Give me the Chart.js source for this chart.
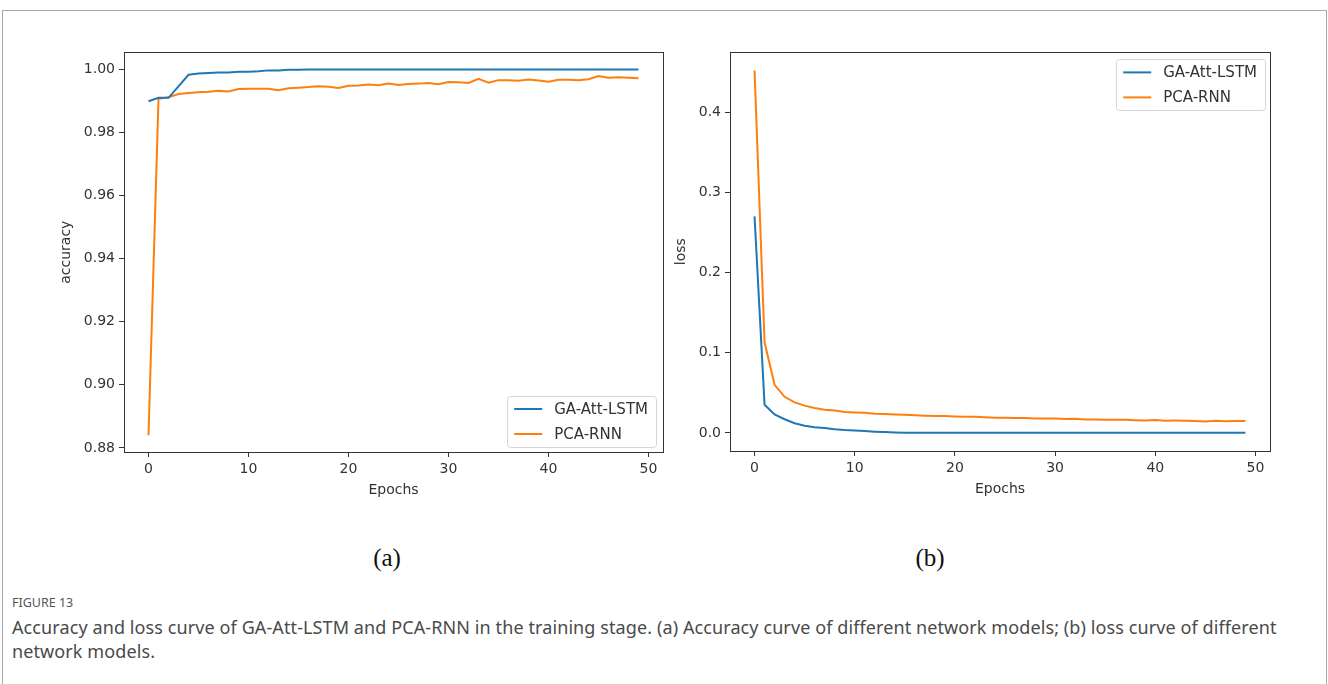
<!DOCTYPE html>
<html>
<head>
<meta charset="utf-8">
<script src="https://cdn.jsdelivr.net/npm/chart.js@4.4.1/dist/chart.umd.min.js"></script>
<style>
  body { margin: 0; background: #fff; width: 1328px; height: 684px; overflow: hidden; position: relative; }
  #frame { position: absolute; left: 2px; top: 10px; width: 1323px; height: 700px; border: 1px solid #a8a8a8; }
  #accWrap { position: absolute; left: 20px; top: 40px; width: 650px; height: 470px; }
  #lossWrap { position: absolute; left: 670px; top: 40px; width: 620px; height: 470px; }
  .sub { position: absolute; top: 545px; font-family: "Liberation Serif"; font-size: 25px; line-height: 25px; color: #111; transform: translateX(-50%); }
  #figno { position: absolute; left: 12px; top: 596px; font-family: "Noto Sans"; font-size: 12.5px; line-height: 14px; color: #555; }
  #cap { position: absolute; left: 12px; top: 615px; width: 1300px; font-family: "Noto Sans"; font-size: 18px; letter-spacing: 0.1px; line-height: 24px; color: #4a4a4a; }
</style>
</head>
<body>
<div id="frame"></div>
<div id="accWrap"><canvas id="accChart"></canvas></div>
<div id="lossWrap"><canvas id="lossChart"></canvas></div>
<div class="sub" style="left:387px">(a)</div>
<div class="sub" style="left:930px">(b)</div>
<div id="figno">FIGURE 13</div>
<div id="cap">Accuracy and loss curve of GA-Att-LSTM and PCA-RNN in the training stage. (a) Accuracy curve of different network models; (b) loss curve of different network models.</div>
<script>
// epochs 0..49
const epochs = [0, 1, 2, 3, 4, 5, 6, 7, 8, 9, 10, 11, 12, 13, 14, 15, 16, 17, 18, 19,
  20, 21, 22, 23, 24, 25, 26, 27, 28, 29, 30, 31, 32, 33, 34, 35, 36, 37, 38, 39,
  40, 41, 42, 43, 44, 45, 46, 47, 48, 49];

// accuracy curves
const accLstm = [0.9899, 0.9910, 0.9910, 0.9946, 0.9983, 0.9987, 0.9989, 0.9990, 0.9990, 0.9993,
  0.9993, 0.9994, 0.9997, 0.9997, 0.9999, 0.9999, 1.0000, 1.0000, 1.0000, 1.0000,
  1.0000, 1.0000, 1.0000, 1.0000, 1.0000, 1.0000, 1.0000, 1.0000, 1.0000, 1.0000,
  1.0000, 1.0000, 1.0000, 1.0000, 1.0000, 1.0000, 1.0000, 1.0000, 1.0000, 1.0000,
  1.0000, 1.0000, 1.0000, 1.0000, 1.0000, 1.0000, 1.0000, 1.0000, 1.0000, 1.0000];
const accRnn = [0.8840, 0.9907, 0.9912, 0.9922, 0.9925, 0.9928, 0.9929, 0.9932, 0.9930, 0.9938,
  0.9939, 0.9939, 0.9939, 0.9934, 0.9940, 0.9942, 0.9944, 0.9947, 0.9945, 0.9941,
  0.9948, 0.9949, 0.9952, 0.9950, 0.9955, 0.9951, 0.9954, 0.9955, 0.9957, 0.9953,
  0.9960, 0.9959, 0.9957, 0.9970, 0.9958, 0.9966, 0.9966, 0.9964, 0.9968, 0.9965,
  0.9961, 0.9967, 0.9967, 0.9966, 0.9969, 0.9979, 0.9974, 0.9975, 0.9974, 0.9972];

// loss curves
const lossLstm = [0.270, 0.035, 0.023, 0.017, 0.012, 0.009, 0.007, 0.006, 0.0045, 0.0035,
  0.003, 0.0022, 0.0015, 0.001, 0.0005, 0.0002, 0.0001, 0.0001, 0.0001, 0.0001,
  0.0001, 0.0001, 0.0001, 0.0001, 0.0001, 0.0001, 0.0001, 0.0001, 0.0001, 0.0001,
  0.0001, 0.0001, 0.0001, 0.0001, 0.0001, 0.0001, 0.0001, 0.0001, 0.0001, 0.0001,
  0.0001, 0.0001, 0.0001, 0.0001, 0.0001, 0.0001, 0.0001, 0.0001, 0.0001, 0.0001];
const lossRnn = [0.452, 0.113, 0.060, 0.045, 0.038, 0.034, 0.031, 0.029, 0.028, 0.026,
  0.0255, 0.025, 0.024, 0.0235, 0.023, 0.0225, 0.022, 0.0215, 0.021, 0.021,
  0.0205, 0.020, 0.020, 0.0195, 0.019, 0.019, 0.0185, 0.0185, 0.018, 0.018,
  0.0178, 0.0172, 0.0175, 0.0168, 0.0168, 0.0165, 0.0163, 0.0163, 0.0158, 0.0155,
  0.016, 0.0152, 0.0153, 0.0152, 0.0148, 0.0143, 0.0150, 0.0145, 0.0148, 0.0147];

const seriesNames = ['GA-Att-LSTM', 'PCA-RNN'];
const xTicks = [0, 10, 20, 30, 40, 50];
const accTicks = [0.88, 0.90, 0.92, 0.94, 0.96, 0.98, 1.00];
const lossTicks = [0.0, 0.1, 0.2, 0.3, 0.4];

const BLUE = '#1f77b4';
const ORANGE = '#ff7f0e';
const INK = '#333333';
const FONT = 'DejaVu Sans';

function points(ys) {
  return epochs.map((e, i) => ({ x: e, y: ys[i] }));
}

// top/right spines, like matplotlib's box
const spines = {
  id: 'spines',
  afterDatasetsDraw(chart) {
    const a = chart.chartArea, ctx = chart.ctx;
    ctx.save();
    ctx.strokeStyle = INK;
    ctx.lineWidth = 1;
    ctx.strokeRect(Math.round(a.left) + 0.5, Math.round(a.top) + 0.5,
      Math.round(a.right - a.left), Math.round(a.bottom - a.top));
    ctx.restore();
  }
};

// legend drawn inside the axes
const boxLegend = {
  id: 'boxLegend',
  afterDraw(chart, args, opts) {
    const ctx = chart.ctx, a = chart.chartArea;
    ctx.save();
    ctx.font = '15px "' + FONT + '"';
    const textW = Math.max(...chart.data.datasets.map(d => ctx.measureText(d.label).width));
    const w = 7 + 28 + 12 + textW + 8, rowH = 25, h = rowH * chart.data.datasets.length + 1;
    const x = opts.corner === 'lr' ? a.right - 7 - w : a.right - 5 - w;
    const y = opts.corner === 'lr' ? a.bottom - 5 - h : a.top + 7;
    ctx.fillStyle = 'rgba(255,255,255,0.85)';
    ctx.strokeStyle = '#d6d6d6';
    ctx.lineWidth = 1;
    ctx.beginPath();
    ctx.roundRect(Math.round(x) + 0.5, Math.round(y) + 0.5, Math.round(w), h, 3);
    ctx.fill();
    ctx.stroke();
    chart.data.datasets.forEach((d, i) => {
      const cy = y + 13 + i * rowH;
      ctx.strokeStyle = d.borderColor;
      ctx.lineWidth = 2;
      ctx.beginPath();
      ctx.moveTo(x + 7, cy);
      ctx.lineTo(x + 35, cy);
      ctx.stroke();
      ctx.fillStyle = INK;
      ctx.textBaseline = 'middle';
      ctx.fillText(d.label, x + 47, cy + 1);
    });
    ctx.restore();
  }
};

function makeChart(id, lstm, rnn, cfg) {
  return new Chart(document.getElementById(id).getContext('2d'), {
    type: 'line',
    data: {
      datasets: [
        { label: seriesNames[0], data: points(lstm), borderColor: BLUE, borderWidth: 2, pointRadius: 0, tension: 0 },
        { label: seriesNames[1], data: points(rnn), borderColor: ORANGE, borderWidth: 2, pointRadius: 0, tension: 0 }
      ]
    },
    options: {
      responsive: true,
      maintainAspectRatio: false,
      animation: false,
      layout: { padding: cfg.padding },
      plugins: { legend: { display: false }, tooltip: { enabled: false }, boxLegend: { corner: cfg.corner } },
      scales: {
        x: {
          type: 'linear', min: -2.45, max: 51.45,
          afterBuildTicks: ax => { ax.ticks = xTicks.map(v => ({ value: v })); },
          afterFit: ax => { ax.height = cfg.xAxisH; },
          ticks: { color: INK, font: { family: FONT, size: 14 }, padding: 4, maxRotation: 0, callback: v => String(v) },
          grid: { drawOnChartArea: false, drawTicks: true, tickLength: 5, color: INK },
          border: { display: true, color: INK },
          title: { display: true, text: 'Epochs', color: INK, font: { family: FONT, size: 14 }, padding: { top: 0, bottom: cfg.xTitlePad } }
        },
        y: {
          type: 'linear', min: cfg.yMin, max: cfg.yMax,
          afterBuildTicks: ax => { ax.ticks = cfg.yTicks.map(v => ({ value: v })); },
          afterFit: ax => { ax.width = cfg.yAxisW; },
          ticks: { color: INK, font: { family: FONT, size: 14 }, padding: 4, callback: v => v.toFixed(cfg.decimals) },
          grid: { drawOnChartArea: false, drawTicks: true, tickLength: 5, color: INK },
          border: { display: true, color: INK },
          title: { display: true, text: cfg.yTitle, color: INK, font: { family: FONT, size: 14 }, padding: { top: cfg.yTitlePad, bottom: 0 } }
        }
      }
    },
    plugins: [spines, boxLegend]
  });
}

makeChart('accChart', accLstm, accRnn, {
  yMin: 0.8787, yMax: 1.0054, yTicks: accTicks, decimals: 2, yTitle: 'accuracy',
  yAxisW: 104, xAxisH: 58, padding: { left: 0, top: 12, right: 7, bottom: 0 },
  xTitlePad: 11.6, yTitlePad: 37.6, corner: 'lr'
});

makeChart('lossChart', lossLstm, lossRnn, {
  yMin: -0.0226, yMax: 0.4746, yTicks: lossTicks, decimals: 1, yTitle: 'loss',
  yAxisW: 60, xAxisH: 59, padding: { left: 0, top: 10, right: 20, bottom: 0 },
  xTitlePad: 12.6, yTitlePad: 2.6, corner: 'ur'
});
</script>
</body>
</html>
